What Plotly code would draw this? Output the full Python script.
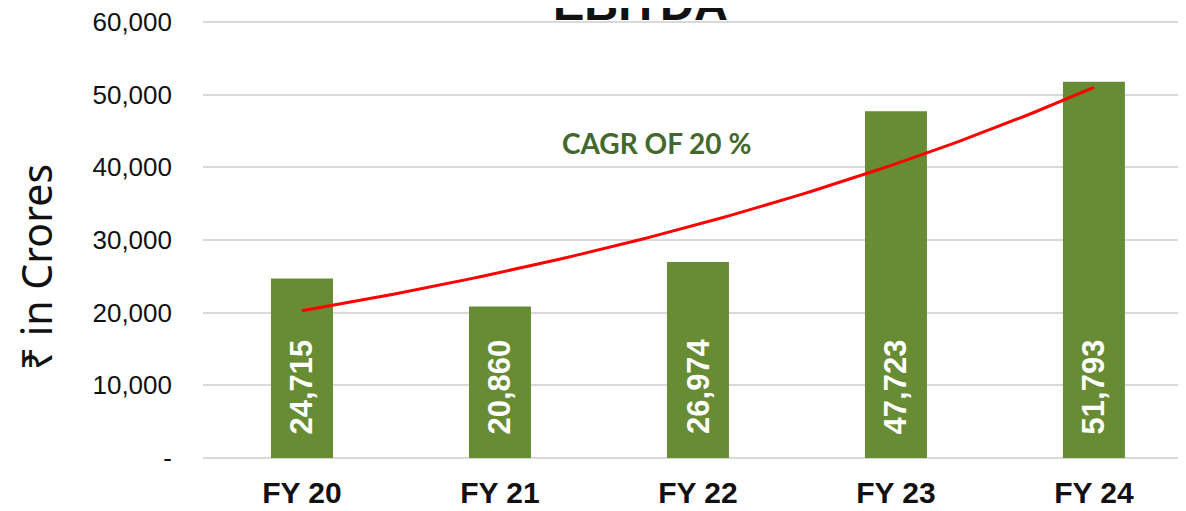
import numpy as np
import plotly.graph_objects as go

categories = ["FY 20", "FY 21", "FY 22", "FY 23", "FY 24"]
ebitda = [24715, 20860, 26974, 47723, 51793]
bar_labels = ["24,715", "20,860", "26,974", "47,723", "51,793"]
y_tickvals = [0, 10000, 20000, 30000, 40000, 50000, 60000]
y_ticktext = ["-", "10,000", "20,000", "30,000", "40,000", "50,000", "60,000"]
title_text = "EBITDA"
y_title = "₹ in Crores"
cagr_text = "CAGR OF 20 %"

BAR_COLOR = "#678C34"
GRID = "#D9D9D9"

# exponential trendline (least-squares fit on log values, as the spreadsheet does)
idx = np.arange(len(ebitda))
b, a = np.polyfit(idx, np.log(ebitda), 1)
tx = np.linspace(0, len(ebitda) - 1, 80)
ty = np.exp(a + b * tx)

fig = go.Figure()
fig.add_trace(go.Bar(
    x=idx, y=ebitda, marker=dict(color=BAR_COLOR, line=dict(width=0)),
    width=0.313, hoverinfo="skip", showlegend=False,
))
fig.add_trace(go.Scatter(
    x=tx, y=ty, mode="lines", line=dict(color="#FF0000", width=3),
    hoverinfo="skip", showlegend=False,
))

annotations = []
for i, lab in enumerate(bar_labels):
    annotations.append(dict(
        x=i, y=0, xref="x", yref="y", text=lab, showarrow=False,
        textangle=-90, xanchor="center", yanchor="bottom", yshift=22,
        font=dict(family="Liberation Sans, Arial", size=31, color="white", weight="bold"),
    ))
annotations.append(dict(
    x=1.79, y=43300, xref="x", yref="y", text=f"<b>{cagr_text}</b>", showarrow=False,
    font=dict(family="Lato, Open Sans", size=28, color="#43682B"),
))
annotations.append(dict(
    x=0.445, y=1, xref="paper", yref="paper", text=f"<b>{title_text}</b>", showarrow=False,
    xanchor="center", yanchor="bottom", yshift=-11,
    font=dict(family="Liberation Sans, Arial", size=47, color="#111111"),
))
annotations.append(dict(
    x=-0.169, y=0.436, xref="paper", yref="paper", text=y_title, showarrow=False,
    textangle=-90, xanchor="center", yanchor="middle",
    font=dict(family="Noto Sans, Open Sans", size=41, color="#111111"),
))

fig.update_layout(
    width=1178, height=503,
    margin=dict(l=195, r=0, t=13, b=53, pad=0, autoexpand=False),
    paper_bgcolor="white", plot_bgcolor="white",
    annotations=annotations,
)
fig.update_xaxes(
    range=[-0.5, 4.465], tickmode="array", tickvals=list(idx), ticktext=[f"<b>{c}</b>" for c in categories],
    tickfont=dict(family="Liberation Sans, Arial", size=30, color="#111111"),
    showgrid=False, zeroline=False, showline=False, ticks="", ticklabelstandoff=14,
    automargin=False, ticklabeloverflow="allow",
)
fig.update_yaxes(
    range=[0, 60150], tickmode="array", tickvals=y_tickvals, ticktext=y_ticktext,
    tickfont=dict(family="Liberation Sans, Arial", size=26, color="#111111"),
    showgrid=True, gridcolor=GRID, gridwidth=2, zeroline=True, zerolinecolor=GRID, zerolinewidth=2,
    showline=False, ticks="", ticklabelstandoff=30,
    automargin=False, ticklabeloverflow="allow",
)

fig.write_html("out.html")
